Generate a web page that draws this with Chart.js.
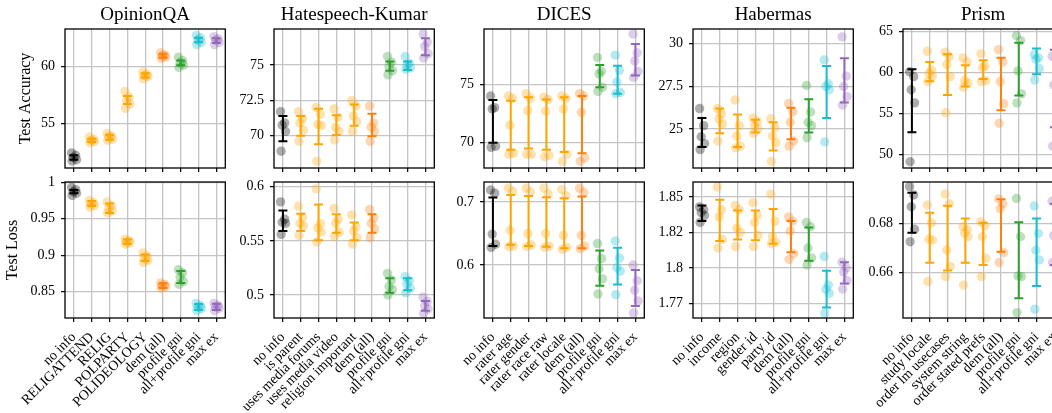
<!DOCTYPE html>
<html>
<head>
<meta charset="utf-8">
<script src="https://cdn.jsdelivr.net/npm/chart.js@4.4.1/dist/chart.umd.min.js"></script>
<style>
  html, body { margin: 0; padding: 0; background: #fff; overflow: hidden; width: 1052px; height: 413px; }
  #wrap { position: relative; width: 1100px; height: 413px; }
  #wrap canvas { position: absolute; }
</style>
</head>
<body>
<div id="wrap"></div>
<script>
// ---- categories (x tick labels) ----
const opinionCats = ["no info", "RELIGATTEND", "RELIG", "POLPARTY", "POLIDEOLOGY", "dem (all)", "profile gni", "all+profile gni", "max ex"];
const hateCats = ["no info", "is parent", "uses media forums", "uses media video", "religion important", "dem (all)", "profile gni", "all+profile gni", "max ex"];
const dicesCats = ["no info", "rater age", "rater gender", "rater race raw", "rater locale", "dem (all)", "profile gni", "all+profile gni", "max ex"];
const habermasCats = ["no info", "income", "region", "gender id", "party id", "dem (all)", "profile gni", "all+profile gni", "max ex"];
const prismCats = ["no info", "study locale", "order lm usecases", "system string", "order stated prefs", "dem (all)", "profile gni", "all+profile gni", "max ex"];

// ---- test accuracy: per-seed values, error bar low / high ----
const opinionAccPts = [[52.4, 52.2, 52.0, 51.8, 51.7], [53.8, 53.6, 53.5, 53.4, 53.3], [54.1, 53.9, 53.8, 53.6, 53.5], [57.8, 57.3, 57.0, 56.7, 56.3], [59.5, 59.3, 59.2, 59.1, 58.9], [61.2, 61.0, 60.9, 60.8, 60.7], [60.8, 60.5, 60.3, 60.1, 59.9], [62.7, 62.5, 62.3, 62.1, 61.9], [62.6, 62.4, 62.3, 62.1, 61.9]];
const opinionAccLo = [51.8, 53.35, 53.55, 56.7, 59.0, 60.75, 60.1, 62.1, 62.05];
const opinionAccHi = [52.2, 53.65, 54.0, 57.4, 59.4, 61.1, 60.5, 62.5, 62.45];

const hateAccPts = [[71.7, 70.9, 70.75, 70.3, 68.9], [71.7, 71.2, 70.9, 70.4, 69.6], [72.0, 71.5, 70.8, 70.7, 68.2], [71.9, 71.3, 70.6, 70.3, 69.7], [72.5, 72.1, 71.4, 71.0, 70.3], [72.1, 70.9, 70.6, 70.3, 69.6], [75.6, 75.2, 74.9, 74.6, 74.3], [75.6, 75.1, 75.0, 74.8, 74.7], [77.2, 76.6, 76.3, 75.8, 75.5]];
const hateAccLo = [69.6, 70.0, 69.4, 70.05, 70.7, 69.95, 74.6, 74.65, 75.7];
const hateAccHi = [71.4, 71.4, 71.9, 71.45, 72.2, 71.55, 75.25, 75.25, 76.9];

const dicesAccPts = [[74.0, 73.0, 72.9, 69.7, 69.6], [74.0, 73.8, 71.5, 69.1, 69.0], [74.2, 73.8, 72.75, 69.0, 69.0], [73.9, 73.7, 72.7, 68.9, 68.8], [74.0, 73.8, 72.9, 69.0, 68.4], [74.2, 74.0, 72.6, 68.7, 68.4], [77.3, 76.1, 75.9, 74.75, 74.4], [77.5, 76.2, 75.2, 74.3, 74.2], [79.3, 77.7, 77.0, 76.1, 75.6]];
const dicesAccLo = [70.0, 69.4, 69.5, 69.4, 69.2, 69.1, 74.75, 74.2, 75.75];
const dicesAccHi = [73.65, 73.6, 73.9, 73.7, 73.9, 74.0, 76.65, 76.6, 78.45];

const habermasAccPts = [[26.2, 25.2, 24.55, 24.15, 23.8], [26.2, 25.9, 25.6, 25.3, 24.3], [26.7, 25.2, 24.6, 24.0, 23.9], [25.65, 25.45, 25.2, 25.0, 24.75], [25.6, 25.1, 24.6, 24.2, 23.1], [26.5, 26.0, 25.4, 24.3, 24.0], [27.55, 26.0, 25.4, 25.2, 24.5], [29.05, 27.65, 27.5, 27.3, 24.25], [30.4, 28.1, 27.5, 26.9, 26.4]];
const habermasAccLo = [23.95, 24.75, 23.95, 24.8, 23.75, 24.4, 24.8, 25.65, 26.55];
const habermasAccHi = [25.65, 26.2, 25.85, 25.55, 25.4, 26.25, 26.75, 28.7, 29.15];

const prismAccPts = [[60.1, 59.5, 57.9, 56.3, 49.1], [62.6, 60.3, 59.9, 59.6, 58.9], [62.5, 61.9, 61.0, 59.5, 55.1], [61.8, 61.3, 59.0, 58.7, 58.2], [62.3, 60.8, 60.6, 59.0, 58.9], [62.8, 61.3, 58.9, 56.2, 53.8], [64.5, 63.9, 60.2, 57.4, 56.3], [62.2, 61.8, 61.6, 60.5, 59.1], [62.0, 61.7, 58.5, 57.0, 51.0]];
const prismAccLo = [52.7, 58.95, 57.25, 58.3, 59.2, 55.4, 57.2, 59.8, 53.3];
const prismAccHi = [60.4, 61.3, 62.25, 60.9, 61.5, 61.8, 63.65, 62.95, 62.8];

// ---- test loss ----
const opinionLossPts = [[0.993, 0.990, 0.987, 0.985, 0.982], [0.975, 0.972, 0.970, 0.968, 0.966], [0.973, 0.968, 0.964, 0.961, 0.958], [0.922, 0.920, 0.918, 0.917, 0.915], [0.903, 0.899, 0.896, 0.893, 0.890], [0.862, 0.860, 0.858, 0.857, 0.855], [0.880, 0.876, 0.870, 0.864, 0.860], [0.834, 0.831, 0.829, 0.827, 0.824], [0.834, 0.831, 0.829, 0.827, 0.824]];
const opinionLossLo = [0.985, 0.9675, 0.958, 0.9155, 0.892, 0.855, 0.862, 0.825, 0.825];
const opinionLossHi = [0.9895, 0.9745, 0.971, 0.922, 0.901, 0.8615, 0.8785, 0.833, 0.8335];

const hateLossPts = [[0.586, 0.570, 0.567, 0.566, 0.556], [0.582, 0.572, 0.566, 0.564, 0.555], [0.598, 0.566, 0.562, 0.558, 0.549], [0.580, 0.570, 0.566, 0.558, 0.554], [0.574, 0.563, 0.559, 0.553, 0.547], [0.579, 0.571, 0.566, 0.561, 0.553], [0.520, 0.514, 0.508, 0.505, 0.500], [0.517, 0.513, 0.510, 0.506, 0.502], [0.498, 0.494, 0.490, 0.487, 0.483]];
const hateLossLo = [0.559, 0.559, 0.5505, 0.5575, 0.5505, 0.5575, 0.502, 0.5045, 0.4855];
const hateLossHi = [0.578, 0.575, 0.5835, 0.5745, 0.567, 0.5745, 0.5155, 0.5155, 0.4945];

const dicesLossPts = [[0.719, 0.714, 0.649, 0.633, 0.628], [0.722, 0.717, 0.655, 0.630, 0.629], [0.722, 0.716, 0.650, 0.632, 0.629], [0.722, 0.713, 0.650, 0.630, 0.628], [0.720, 0.710, 0.647, 0.628, 0.625], [0.722, 0.715, 0.647, 0.630, 0.626], [0.634, 0.610, 0.594, 0.578, 0.554], [0.638, 0.611, 0.596, 0.590, 0.553], [0.600, 0.575, 0.560, 0.543, 0.524]];
const dicesLossLo = [0.630, 0.632, 0.630, 0.629, 0.6265, 0.6265, 0.567, 0.569, 0.535];
const dicesLossHi = [0.707, 0.711, 0.7095, 0.7075, 0.706, 0.7085, 0.623, 0.6275, 0.592];

const habermasLossPts = [[1.843, 1.841, 1.839, 1.837, 1.832], [1.857, 1.841, 1.836, 1.820, 1.814], [1.844, 1.841, 1.828, 1.825, 1.815], [1.846, 1.837, 1.832, 1.823, 1.815], [1.852, 1.833, 1.822, 1.818, 1.817], [1.836, 1.833, 1.826, 1.810, 1.806], [1.832, 1.829, 1.814, 1.807, 1.802], [1.808, 1.788, 1.785, 1.782, 1.768], [1.804, 1.800, 1.797, 1.791, 1.785]];
const habermasLossLo = [1.833, 1.819, 1.820, 1.8195, 1.817, 1.811, 1.805, 1.772, 1.789];
const habermasLossHi = [1.844, 1.848, 1.8405, 1.8405, 1.8415, 1.833, 1.8285, 1.798, 1.804];

const prismLossPts = [[0.695, 0.6916, 0.6868, 0.6776, 0.6725], [0.6875, 0.6802, 0.6735, 0.6732, 0.6562], [0.692, 0.688, 0.6691, 0.6623, 0.6582], [0.6786, 0.6775, 0.676, 0.6745, 0.6548], [0.6807, 0.679, 0.6745, 0.6657, 0.6582], [0.690, 0.688, 0.686, 0.668, 0.664], [0.6902, 0.6745, 0.6585, 0.6582, 0.6435], [0.6871, 0.6759, 0.669, 0.665, 0.6449], [0.689, 0.680, 0.675, 0.668, 0.664]];
const prismLossLo = [0.6762, 0.6639, 0.6607, 0.6639, 0.663, 0.6684, 0.6494, 0.6544, 0.663];
const prismLossHi = [0.6925, 0.6843, 0.6872, 0.682, 0.6802, 0.6898, 0.6804, 0.682, 0.688];

// ---- y tick values and their labels ----
const opinionAccTicks = [55, 60], opinionAccTickLabels = ["55", "60"];
const hateAccTicks = [70, 72.5, 75], hateAccTickLabels = ["70", "72.5", "75"];
const dicesAccTicks = [70, 75], dicesAccTickLabels = ["70", "75"];
const habermasAccTicks = [25, 27.5, 30], habermasAccTickLabels = ["25", "27.5", "30"];
const prismAccTicks = [50, 55, 60, 65], prismAccTickLabels = ["50", "55", "60", "65"];
const opinionLossTicks = [0.85, 0.9, 0.95, 1], opinionLossTickLabels = ["0.85", "0.9", "0.95", "1"];
const hateLossTicks = [0.5, 0.55, 0.6], hateLossTickLabels = ["0.5", "0.55", "0.6"];
const dicesLossTicks = [0.6, 0.7], dicesLossTickLabels = ["0.6", "0.7"];
const habermasLossTicks = [1.775, 1.8, 1.825, 1.85], habermasLossTickLabels = ["1.77", "1.8", "1.82", "1.85"];
const prismLossTicks = [0.66, 0.68], prismLossTickLabels = ["0.66", "0.68"];

// ---- styling ----
const COLORS = ["#000000", "#ffa500", "#ffa500", "#ffa500", "#ffa500", "#ff7f0e", "#2ca02c", "#17becf", "#9467bd"];
const JITTER = [-0.13, 0.1, -0.04, 0.15, -0.1]; // small per-seed offset so dots don't stack
const FONT = "'Liberation Serif', 'DejaVu Serif', serif";
const GRID = "#c4c4c4";
const PLOT_LEFT = [65, 274, 484, 693, 903];
const PLOT_W = 161;

function rgba(hex, a) {
    const n = parseInt(hex.slice(1), 16);
    return `rgba(${n >> 16}, ${(n >> 8) & 255}, ${n & 255}, ${a})`;
}

const errorBars = {
    id: "errorBars",
    afterDatasetsDraw(chart, args, opts) {
        const xs = chart.scales.x, ys = chart.scales.y, ctx = chart.ctx;
        ctx.save();
        ctx.lineWidth = 2;
        opts.lo.forEach((lo, i) => {
            const x = xs.getPixelForValue(i);
            const y1 = ys.getPixelForValue(lo);
            const y2 = ys.getPixelForValue(opts.hi[i]);
            ctx.strokeStyle = COLORS[i];
            ctx.beginPath();
            ctx.moveTo(x, y1); ctx.lineTo(x, y2);
            ctx.moveTo(x - 4.5, y1); ctx.lineTo(x + 4.5, y1);
            ctx.moveTo(x - 4.5, y2); ctx.lineTo(x + 4.5, y2);
            ctx.stroke();
        });
        ctx.restore();
    }
};

const frame = {
    id: "frame",
    afterDraw(chart) {
        const a = chart.chartArea, ctx = chart.ctx;
        ctx.save();
        ctx.strokeStyle = "#000";
        ctx.lineWidth = 1.3;
        ctx.strokeRect(a.left, a.top, a.right - a.left, a.bottom - a.top);
        ctx.restore();
    }
};

const panels = [
    { row: 0, col: 0, title: "OpinionQA", cats: opinionCats, pts: opinionAccPts, lo: opinionAccLo, hi: opinionAccHi, yMin: 51.08, yMax: 63.27, ticks: opinionAccTicks, tickLabels: opinionAccTickLabels },
    { row: 0, col: 1, title: "Hatespeech-Kumar", cats: hateCats, pts: hateAccPts, lo: hateAccLo, hi: hateAccHi, yMin: 67.71, yMax: 77.55, ticks: hateAccTicks, tickLabels: hateAccTickLabels },
    { row: 0, col: 2, title: "DICES", cats: dicesCats, pts: dicesAccPts, lo: dicesAccLo, hi: dicesAccHi, yMin: 67.83, yMax: 79.74, ticks: dicesAccTicks, tickLabels: dicesAccTickLabels },
    { row: 0, col: 3, title: "Habermas", cats: habermasCats, pts: habermasAccPts, lo: habermasAccLo, hi: habermasAccHi, yMin: 22.72, yMax: 30.86, ticks: habermasAccTicks, tickLabels: habermasAccTickLabels },
    { row: 0, col: 4, title: "Prism", cats: prismCats, pts: prismAccPts, lo: prismAccLo, hi: prismAccHi, yMin: 48.33, yMax: 65.33, ticks: prismAccTicks, tickLabels: prismAccTickLabels },
    { row: 1, col: 0, cats: opinionCats, pts: opinionLossPts, lo: opinionLossLo, hi: opinionLossHi, yMin: 0.8139, yMax: 1.0004, ticks: opinionLossTicks, tickLabels: opinionLossTickLabels },
    { row: 1, col: 1, cats: hateCats, pts: hateLossPts, lo: hateLossLo, hi: hateLossHi, yMin: 0.4788, yMax: 0.6043, ticks: hateLossTicks, tickLabels: hateLossTickLabels },
    { row: 1, col: 2, cats: dicesCats, pts: dicesLossPts, lo: dicesLossLo, hi: dicesLossHi, yMin: 0.5159, yMax: 0.7317, ticks: dicesLossTicks, tickLabels: dicesLossTickLabels },
    { row: 1, col: 3, cats: habermasCats, pts: habermasLossPts, lo: habermasLossLo, hi: habermasLossHi, yMin: 1.7646, yMax: 1.8606, ticks: habermasLossTicks, tickLabels: habermasLossTickLabels },
    { row: 1, col: 4, cats: prismCats, pts: prismLossPts, lo: prismLossLo, hi: prismLossHi, yMin: 0.6413, yMax: 0.6969, ticks: prismLossTicks, tickLabels: prismLossTickLabels }
];

const wrap = document.getElementById("wrap");

function makePanel(p) {
    const topRow = p.row === 0;
    const lw = p.col === 0 ? 65 : 50;
    const rightPad = 4;
    const cv = document.createElement("canvas");
    cv.width = lw + PLOT_W + rightPad;
    cv.height = topRow ? 175 : 241;
    cv.style.left = (PLOT_LEFT[p.col] - lw) + "px";
    cv.style.top = (topRow ? 0 : 172) + "px";
    wrap.appendChild(cv);

    new Chart(cv, {
        type: "scatter",
        data: {
            datasets: p.pts.map((vals, i) => ({
                data: vals.map((v, j) => ({ x: i + JITTER[j], y: v })),
                backgroundColor: rgba(COLORS[i], 0.32),
                borderWidth: 0,
                pointRadius: 4.7,
                pointHoverRadius: 4.7
            }))
        },
        options: {
            responsive: false,
            animation: false,
            events: [],
            layout: { padding: { top: topRow ? 0 : 10, right: rightPad, bottom: 0, left: 0 } },
            plugins: {
                legend: { display: false },
                tooltip: { enabled: false },
                title: {
                    display: topRow,
                    fullSize: false, // centre the title over the plot area, not the canvas
                    text: p.title,
                    color: "#000",
                    font: { family: FONT, size: 19, weight: "normal", lineHeight: 1.2 },
                    padding: { top: 3.6, bottom: 2.6 }
                },
                errorBars: { lo: p.lo, hi: p.hi }
            },
            scales: {
                x: {
                    type: "linear",
                    min: -0.5,
                    max: 8.5,
                    afterBuildTicks: s => { s.ticks = p.cats.map((c, i) => ({ value: i })); },
                    afterFit: s => { s.height = topRow ? 7 : 95; s.paddingLeft = 0; s.paddingRight = 0; },
                    border: { display: false },
                    grid: { color: GRID, lineWidth: 1.3, tickColor: "#000", tickLength: 4, tickWidth: 1.2 },
                    ticks: {
                        display: !topRow,
                        autoSkip: false,
                        minRotation: 45,
                        maxRotation: 45,
                        padding: 7,
                        color: "#000",
                        font: { family: FONT, size: 14 },
                        callback: v => p.cats[v]
                    }
                },
                y: {
                    min: p.yMin,
                    max: p.yMax,
                    afterBuildTicks: s => { s.ticks = p.ticks.map(v => ({ value: v })); },
                    afterFit: s => { s.width = lw; s.paddingTop = 0; s.paddingBottom = 0; },
                    border: { display: false },
                    grid: { color: GRID, lineWidth: 1.3, tickColor: "#000", tickLength: 4, tickWidth: 1.2 },
                    ticks: {
                        padding: 6,
                        color: "#000",
                        font: { family: FONT, size: 14 },
                        callback: (v, i) => p.tickLabels[i]
                    },
                    title: {
                        display: p.col === 0,
                        text: topRow ? "Test Accuracy" : "Test Loss",
                        color: "#000",
                        font: { family: FONT, size: 16, lineHeight: 1.2 },
                        padding: { top: topRow ? 16 : 3.5, bottom: 0 }
                    }
                }
            }
        },
        plugins: [errorBars, frame]
    });
}

panels.forEach(makePanel);
</script>
</body>
</html>
